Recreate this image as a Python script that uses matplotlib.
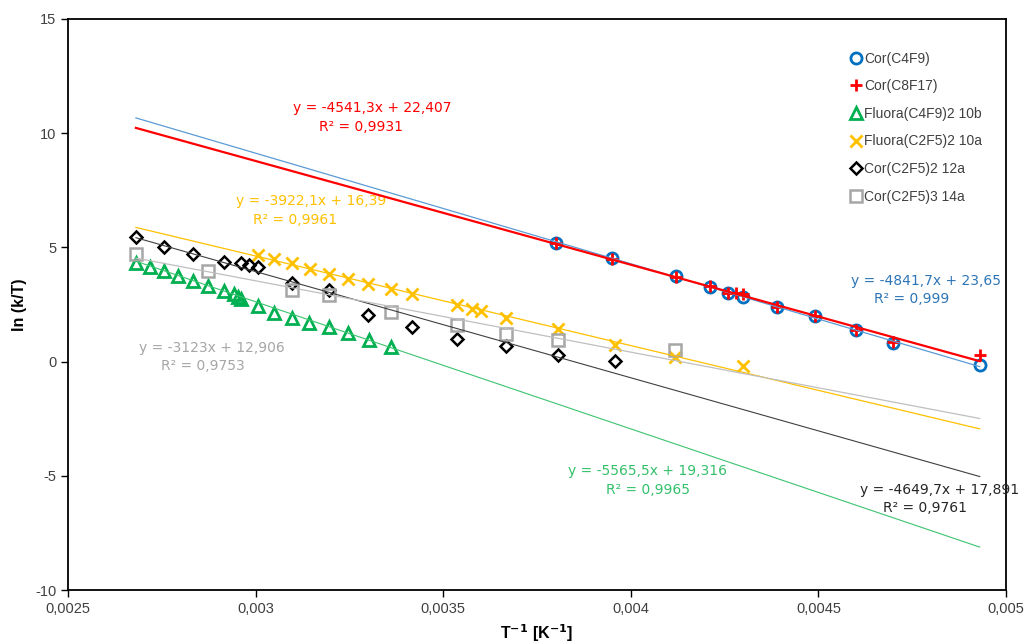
import matplotlib.pyplot as plt
import numpy as np
from matplotlib.ticker import FuncFormatter, MultipleLocator

plt.rcParams['font.family'] = ['Liberation Sans', 'DejaVu Sans']

# data: x = 1/T [1/K], y = ln(k/T)
c4f9_x = [0.0038, 0.00395, 0.00412, 0.00421, 0.00426, 0.0043, 0.00439, 0.00449, 0.0046, 0.0047, 0.00493]
c4f9_y = [5.19, 4.54, 3.75, 3.27, 3.0, 2.83, 2.39, 1.99, 1.38, 0.82, -0.15]

c8f17_x = [0.0038, 0.00395, 0.00412, 0.00421, 0.00426, 0.00428, 0.0043, 0.00439, 0.00449, 0.0046, 0.0047, 0.00493]
c8f17_y = [5.2, 4.5, 3.7, 3.3, 3.0, 3.0, 2.95, 2.4, 2.0, 1.4, 0.85, 0.3]

fl_c4f9_x = [0.002681, 0.002719, 0.002756, 0.002793, 0.002833, 0.002873, 0.002916, 0.002942, 0.002953,
             0.002961, 0.003006, 0.003049, 0.003097, 0.003142, 0.003196, 0.003246, 0.003302, 0.003361]
fl_c4f9_y = [4.32, 4.14, 3.97, 3.75, 3.53, 3.31, 3.09, 2.96, 2.83, 2.74, 2.43, 2.13, 1.91, 1.69, 1.51, 1.25, 0.95, 0.64]

fl_c2f5_x = [0.003006, 0.003049, 0.003097, 0.003145, 0.003196, 0.003246, 0.0033, 0.003361, 0.003417,
             0.003537, 0.003577, 0.003601, 0.003667, 0.003806, 0.003958, 0.004118, 0.004299]
fl_c2f5_y = [4.67, 4.49, 4.32, 4.05, 3.83, 3.62, 3.40, 3.18, 2.96, 2.48, 2.30, 2.22, 1.91, 1.43, 0.73, 0.20, -0.19]

c2f5_2_x = [0.002681, 0.002756, 0.002833, 0.002916, 0.002961, 0.002982, 0.003006, 0.003097, 0.003196,
            0.0033, 0.003417, 0.003537, 0.003667, 0.003806, 0.003958]
c2f5_2_y = [5.46, 5.02, 4.71, 4.36, 4.32, 4.23, 4.14, 3.44, 3.13, 2.05, 1.52, 0.99, 0.68, 0.29, 0.03]

c2f5_3_x = [0.002681, 0.002873, 0.003097, 0.003196, 0.003361, 0.003537, 0.003667, 0.003806, 0.004118]
c2f5_3_y = [4.71, 3.97, 3.13, 2.92, 2.17, 1.60, 1.21, 0.94, 0.51]

# trendline equations (slope, intercept, R2) as printed
fits = {
    'c4f9': (-4841.7, 23.65, 0.999),
    'c8f17': (-4541.3, 22.407, 0.9931),
    'fl_c4f9': (-5565.5, 19.316, 0.9965),
    'fl_c2f5': (-3922.1, 16.39, 0.9961),
    'c2f5_2': (-4649.7, 17.891, 0.9761),
    'c2f5_3': (-3123, 12.906, 0.9753),
}

fig = plt.figure(figsize=(10.29, 6.44), dpi=100)
ax = fig.add_axes([68 / 1029, 54 / 644, 938 / 1029, 571 / 644])

ms = 8
ax.plot(c4f9_x, c4f9_y, 'o', ms=ms, mfc='none', mec='#0070C0', mew=2, label='Cor(C4F9)', zorder=3)
ax.plot(c8f17_x, c8f17_y, '+', ms=ms + 1, mec='#FF0000', mew=2, label='Cor(C8F17)', zorder=4)
ax.plot(fl_c4f9_x, fl_c4f9_y, '^', ms=ms, mfc='none', mec='#00B050', mew=2, label='Fluora(C4F9)2 10b', zorder=3)
ax.plot(fl_c2f5_x, fl_c2f5_y, 'x', ms=ms, mec='#FFC000', mew=2, label='Fluora(C2F5)2 10a', zorder=3)
ax.plot(c2f5_2_x, c2f5_2_y, 'D', ms=ms - 1.5, mfc='none', mec='#000000', mew=1.8, label='Cor(C2F5)2 12a', zorder=3)
ax.plot(c2f5_3_x, c2f5_3_y, 's', ms=ms, mfc='none', mec='#A6A6A6', mew=1.8, label='Cor(C2F5)3 14a', zorder=3)

all_x = c4f9_x + c8f17_x + fl_c4f9_x + fl_c2f5_x + c2f5_2_x + c2f5_3_x
xfit = np.array([min(all_x), max(all_x)])

line_style = {
    'c4f9': ('#5B9BD5', 0.9),
    'c8f17': ('#FF0000', 1.6),
    'fl_c4f9': ('#3CC46E', 0.8),
    'fl_c2f5': ('#FFC000', 0.9),
    'c2f5_2': ('#404040', 0.8),
    'c2f5_3': ('#BFBFBF', 0.9),
}
for k, (m, b, r2) in fits.items():
    col, lw = line_style[k]
    ax.plot(xfit, m * xfit + b, color=col, lw=lw, zorder=5)


def fmt_num(v):
    return f"{v:g}".replace('.', ',')


def eq_text(m, b):
    sign = '+' if b >= 0 else '-'
    return f"y = {fmt_num(m)}x {sign} {fmt_num(abs(b))}"


# label positions in pixels of the original (centre of each line)
label_pos = {
    'c8f17': ((372, 108), (361, 127), '#FF0000'),
    'fl_c2f5': ((311, 201), (295, 220), '#FFC000'),
    'c4f9': ((926, 281), (912, 299), '#2E75B6'),
    'c2f5_3': ((212, 348), (203, 366), '#A6A6A6'),
    'fl_c4f9': ((647, 471), (648, 490), '#33C06A'),
    'c2f5_2': ((940, 490), (925, 508), '#262626'),
}
for k, (p1, p2, col) in label_pos.items():
    m, b, r2 = fits[k]
    ax.text((p1[0] - 68) / 938, (590 - p1[1]) / 571, eq_text(m, b), transform=ax.transAxes,
            ha='center', va='center', color=col, fontsize=10, family='DejaVu Sans')
    ax.text((p2[0] - 68) / 938, (590 - p2[1]) / 571, f"R² = {fmt_num(r2)}", transform=ax.transAxes,
            ha='center', va='center', color=col, fontsize=10, family='DejaVu Sans')

ax.set_xlim(0.0025, 0.005)
ax.set_ylim(-10, 15)
ax.xaxis.set_major_locator(MultipleLocator(0.0005))
ax.yaxis.set_major_locator(MultipleLocator(5))
ax.xaxis.set_major_formatter(FuncFormatter(lambda v, p: fmt_num(round(v, 5))))
ax.yaxis.set_major_formatter(FuncFormatter(lambda v, p: fmt_num(round(v))))
ax.tick_params(axis='both', direction='out', length=5, width=1, labelsize=10.5, colors='#000000',
               labelcolor='#404040')
for sp in ax.spines.values():
    sp.set_linewidth(1.3)

ax.set_ylabel('ln (k/T)', fontsize=11.5, fontweight='bold', labelpad=6)
ax.set_xlabel('T$^{\\mathbf{-1}}$ [K$^{\\mathbf{-1}}$]', fontsize=11.5, fontweight='bold', labelpad=5)

leg = ax.legend(loc='upper left', bbox_to_anchor=((845 - 68) / 938, (590 - 46) / 571), frameon=False,
                fontsize=10, labelspacing=0.98, handlelength=0.8, handletextpad=0.2, borderaxespad=0)
for t in leg.get_texts():
    t.set_color('#404040')

fig.savefig('out.png', dpi=100)
